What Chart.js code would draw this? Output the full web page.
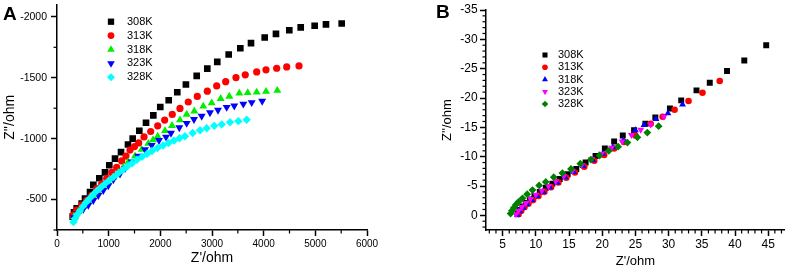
<!DOCTYPE html>
<html><head><meta charset="utf-8">
<script src="https://cdn.jsdelivr.net/npm/chart.js@4/dist/chart.umd.min.js"></script>
<style>
html,body{margin:0;padding:0;background:#fff;}
#wrap{position:relative;width:789px;height:270px;overflow:hidden;background:#fff;}
canvas{position:absolute;top:0;}
#cA{left:0;} #cB{left:394px;}
.lbl{position:absolute;font-family:"Liberation Sans",Arial,sans-serif;font-weight:bold;font-size:19px;line-height:1;color:#000;}
</style></head>
<body><div id="wrap">
<canvas id="cA" width="394" height="270"></canvas>
<canvas id="cB" width="395" height="270"></canvas>
<div class="lbl" style="left:3px;top:4px">A</div>
<div class="lbl" style="left:436px;top:2px">B</div>
</div>
<script>
// ---------- labels ----------
const seriesLabels = ['308K','313K','318K','323K','328K'];

// ---------- Panel A data (Z' / ohm, Z'' / ohm) ----------
const a308x = [304,329,381,478,542,639,703,819,929,1012,1123,1239,1374,1465,1593,1723,1864,1999,2162,2328,2495,2704,2909,3102,3323,3548,3755,4020,4238,4496,4717,4987,5206,5510];
const a308y = [-360,-395,-427,-468,-508,-562,-621,-675,-723,-782,-836,-890,-952,-1000,-1065,-1131,-1191,-1260,-1315,-1381,-1445,-1516,-1575,-1631,-1691,-1742,-1785,-1831,-1860,-1890,-1914,-1927,-1938,-1946];
const a313x = [315,381,478,575,672,768,865,962,1059,1155,1252,1335,1413,1500,1581,1684,1813,1949,2084,2231,2380,2541,2715,2909,3091,3265,3464,3644,3865,4045,4252,4446,4684];
const a313y = [-373,-414,-454,-494,-535,-589,-629,-675,-723,-764,-817,-857,-906,-935,-965,-1014,-1059,-1105,-1153,-1199,-1248,-1301,-1347,-1390,-1433,-1468,-1502,-1524,-1548,-1565,-1578,-1589,-1597];
const a318x = [329,412,509,606,703,799,896,993,1090,1186,1283,1380,1510,1639,1767,1860,1949,2090,2226,2380,2510,2657,2831,2994,3168,3335,3528,3691,3865,4045,4264];
const a318y = [-360,-401,-441,-481,-522,-562,-602,-643,-683,-723,-764,-809,-857,-911,-960,-990,-1019,-1065,-1107,-1153,-1199,-1226,-1266,-1293,-1328,-1347,-1373,-1377,-1381,-1387,-1395];
const a323x = [329,412,509,606,703,799,896,993,1090,1219,1316,1446,1573,1703,1833,1974,2110,2206,2367,2510,2651,2800,2961,3116,3284,3431,3606,3768,3971];
const a323y = [-352,-387,-422,-454,-494,-535,-575,-615,-664,-710,-756,-809,-857,-911,-946,-986,-1014,-1046,-1091,-1127,-1159,-1185,-1214,-1234,-1258,-1270,-1285,-1297,-1308];
const a328x = [319,348,387,445,503,561,629,697,774,852,929,1006,1093,1181,1268,1355,1452,1548,1645,1742,1839,1945,2052,2158,2264,2371,2477,2626,2768,2897,3044,3188,3348,3509,3671];
const a328y = [-315,-343,-375,-407,-444,-476,-508,-540,-573,-601,-629,-657,-685,-713,-742,-770,-798,-827,-851,-875,-899,-923,-944,-964,-984,-1004,-1020,-1046,-1069,-1086,-1105,-1117,-1135,-1144,-1155];

// ---------- Panel B data ----------
const b308x = [7.3,7.6,8.0,8.5,9.1,9.8,10.6,11.5,12.5,13.6,14.8,16.1,17.5,19.0,20.4,21.8,23.1,24.8,26.5,28.0,30.2,31.9,34.2,36.2,38.8,41.4,44.7];
const b308y = [-0.3,-0.9,-1.5,-2.1,-2.7,-3.3,-4.0,-4.7,-5.4,-6.2,-7.0,-7.9,-9.0,-10.1,-11.4,-12.6,-13.6,-14.5,-15.6,-16.7,-18.2,-19.6,-21.3,-22.6,-24.6,-26.4,-29.0];
const b313x = [7.4,7.8,8.3,8.9,9.6,10.4,11.3,12.3,13.4,14.6,15.9,17.3,18.8,20.3,21.8,23.3,25.0,27.3,29.1,30.9,33.0,35.1,37.7];
const b313y = [-0.2,-0.8,-1.4,-2.0,-2.6,-3.3,-4.0,-4.8,-5.6,-6.4,-7.3,-8.3,-9.3,-10.3,-11.4,-12.5,-13.6,-15.6,-16.8,-18.0,-19.5,-20.9,-22.9];
const b318x = [7.2,7.6,8.1,8.7,9.4,10.2,11.1,12.1,13.2,14.4,15.7,17.1,18.6,20.1,21.6,23.2,25.0,26.3,28.1,29.9,32.1];
const b318y = [-0.1,-0.7,-1.3,-1.9,-2.6,-3.3,-4.0,-4.8,-5.6,-6.5,-7.4,-8.4,-9.4,-10.5,-11.6,-12.8,-14.5,-15.4,-16.4,-17.4,-18.9];
const b323x = [7.0,7.4,7.9,8.5,9.2,10.0,10.9,11.9,13.0,14.2,15.5,16.9,18.4,19.9,21.4,23.0,24.4,25.8,27.3,29.3];
const b323y = [-0.2,-0.8,-1.4,-2.1,-2.8,-3.5,-4.2,-5.0,-5.8,-6.7,-7.6,-8.6,-9.6,-10.5,-11.5,-12.6,-13.7,-14.6,-15.5,-16.8];
const b328x = [6.2,6.4,6.7,7.0,7.4,8.0,8.7,9.5,10.5,11.5,12.7,14.0,15.3,16.7,18.3,19.6,21.0,22.4,23.8,25.3,26.8,28.5];
const b328y = [-0.3,-0.8,-1.3,-1.8,-2.3,-2.9,-3.6,-4.3,-5.1,-5.7,-6.5,-7.2,-7.9,-8.8,-9.5,-10.2,-11.0,-11.7,-12.4,-13.3,-14.1,-15.2];

// ---------- tick values ----------
const aXMajor = [0,1000,2000,3000,4000,5000,6000];
const aXMinor = [500,1500,2500,3500,4500,5500];
const aYMajor = [-2000,-1500,-1000,-500];
const aYMinor = [-1750,-1250,-750,-250];
const bXMajor = [5,10,15,20,25,30,35,40,45];
const bXMinor = [3,4,6,7,8,9,11,12,13,14,16,17,18,19,21,22,23,24,26,27,28,29,31,32,33,34,36,37,38,39,41,42,43,44,46,47];
const bYMajor = [-35,-30,-25,-20,-15,-10,-5,0];
const bYMinor = [-34,-33,-32,-31,-29,-28,-27,-26,-24,-23,-22,-21,-19,-18,-17,-16,-14,-13,-12,-11,-9,-8,-7,-6,-4,-3,-2,-1,1,2];

const FONT = '"Liberation Sans", Arial, sans-serif';
const pts = (xs, ys) => xs.map((x, i) => ({x: x, y: ys[i]}));

function mkSet(label, xs, ys, color, style, r, rot, n, i) {
  return {label, data: pts(xs, ys), backgroundColor: color, borderColor: color,
    pointBackgroundColor: color, pointBorderColor: color, pointBorderWidth: 0,
    pointStyle: style, pointRadius: r, pointHoverRadius: r, pointRotation: rot,
    showLine: false, order: n - i};
}

function axis(c) {
  return {
    type: 'linear', position: c.pos, min: c.min, max: c.max, reverse: !!c.reverse,
    border: {display: true, color: '#000', width: 1.5},
    grid: {display: true, drawOnChartArea: false, drawTicks: true, tickLength: 6, tickWidth: 1.5, tickColor: '#000'},
    ticks: {color: '#000', font: {family: FONT, size: c.tickSize}, padding: c.tickPad, autoSkip: false, maxRotation: 0,
      callback: v => String(v)},
    title: {display: true, text: c.title, color: '#000', font: {family: FONT, size: c.titleSize},
      padding: c.pos === 'left' ? {top: c.titlePad, bottom: 0} : {top: 0, bottom: c.titlePad}},
    afterBuildTicks: s => { s.ticks = c.major.map(v => ({value: v})); },
    afterFit: s => {
      if (c.pos === 'left') s.width = c.size; else s.height = c.size;
      s.paddingTop = 0; s.paddingBottom = 0; s.paddingLeft = 0; s.paddingRight = 0;
    }
  };
}

const minorTicks = {
  id: 'minorTicks',
  afterDraw(chart, args, o) {
    const ctx = chart.ctx, xs = chart.scales.x, ys = chart.scales.y;
    ctx.save(); ctx.strokeStyle = '#000'; ctx.lineWidth = 1.2;
    o.x.forEach(v => { const p = xs.getPixelForValue(v); ctx.beginPath(); ctx.moveTo(p, xs.top); ctx.lineTo(p, xs.top + o.len); ctx.stroke(); });
    o.y.forEach(v => { const p = ys.getPixelForValue(v); ctx.beginPath(); ctx.moveTo(ys.right, p); ctx.lineTo(ys.right - o.len, p); ctx.stroke(); });
    ctx.restore();
  }
};

const markerLegend = {
  id: 'markerLegend',
  afterDraw(chart, args, o) {
    const ctx = chart.ctx;
    ctx.save();
    chart.data.datasets.forEach((ds, i) => {
      const y = o.y0 + i * o.dy;
      ctx.fillStyle = ds.backgroundColor; ctx.strokeStyle = ds.backgroundColor;
      Chart.helpers.drawPoint(ctx, {pointStyle: ds.pointStyle, radius: ds.pointRadius * o.scale, rotation: ds.pointRotation || 0, borderWidth: 0}, o.x, y);
      ctx.fillStyle = '#000'; ctx.font = o.font; ctx.textBaseline = 'middle'; ctx.textAlign = 'left';
      ctx.fillText(ds.label, o.textX, y);
    });
    ctx.restore();
  }
};

// ---------- Chart A ----------
new Chart(document.getElementById('cA'), {
  type: 'scatter',
  data: {datasets: [
    mkSet(seriesLabels[0], a308x, a308y, '#000000', 'rect', 4.7, 0, 5, 0),
    mkSet(seriesLabels[1], a313x, a313y, '#ff0000', 'circle', 3.6, 0, 5, 1),
    mkSet(seriesLabels[2], a318x, a318y, '#00ee00', 'triangle', 4.6, 0, 5, 2),
    mkSet(seriesLabels[3], a323x, a323y, '#0000ff', 'triangle', 4.6, 180, 5, 3),
    mkSet(seriesLabels[4], a328x, a328y, '#00ffff', 'rectRot', 4.2, 0, 5, 4)
  ]},
  options: {
    responsive: false, animation: false, devicePixelRatio: 1,
    layout: {padding: {left: 0, right: 27, top: 2.6, bottom: 0}},
    scales: {
      x: axis({pos: 'bottom', min: 0, max: 6000, major: aXMajor, tickSize: 10, tickPad: 2, title: "Z'/ohm", titleSize: 14, titlePad: 3.6, size: 40}),
      y: axis({pos: 'left', min: -2100, max: -250, reverse: true, major: aYMajor, tickSize: 10.5, tickPad: 4, title: "Z''/ohm", titleSize: 14, titlePad: 1.6, size: 57})
    },
    plugins: {
      legend: {display: false}, tooltip: {enabled: false},
      minorTicks: {x: aXMinor, y: aYMinor, len: 3.5},
      markerLegend: {x: 111, y0: 21.7, dy: 13.9, textX: 127, scale: 0.95, font: '11px ' + FONT}
    }
  },
  plugins: [minorTicks, markerLegend]
});

// ---------- Chart B ----------
new Chart(document.getElementById('cB'), {
  type: 'scatter',
  data: {datasets: [
    mkSet(seriesLabels[0], b308x, b308y, '#000000', 'rect', 4.2, 0, 5, 0),
    mkSet(seriesLabels[1], b313x, b313y, '#ff0000', 'circle', 3.3, 0, 5, 1),
    mkSet(seriesLabels[2], b318x, b318y, '#0000ff', 'triangle', 4.0, 0, 5, 2),
    mkSet(seriesLabels[3], b323x, b323y, '#ff00ff', 'triangle', 4.0, 180, 5, 3),
    mkSet(seriesLabels[4], b328x, b328y, '#008000', 'rectRot', 3.9, 0, 5, 4)
  ]},
  options: {
    responsive: false, animation: false, devicePixelRatio: 1,
    layout: {padding: {left: 0, right: 4, top: 10, bottom: 0}},
    scales: {
      x: axis({pos: 'bottom', min: 2.5, max: 47.5, major: bXMajor, tickSize: 12, tickPad: 1, title: "Z'/ohm", titleSize: 13, titlePad: 1.2, size: 40}),
      y: axis({pos: 'left', min: -35, max: 2.5, reverse: true, major: bYMajor, tickSize: 12, tickPad: 2.3, title: "Z''/ohm", titleSize: 13, titlePad: 45.2, size: 92})
    },
    plugins: {
      legend: {display: false}, tooltip: {enabled: false},
      minorTicks: {x: bXMinor, y: bYMinor, len: 3.5},
      markerLegend: {x: 151, y0: 55, dy: 12.25, textX: 164, scale: 0.85, font: '11px ' + FONT}
    }
  },
  plugins: [minorTicks, markerLegend]
});
</script>
</body></html>
